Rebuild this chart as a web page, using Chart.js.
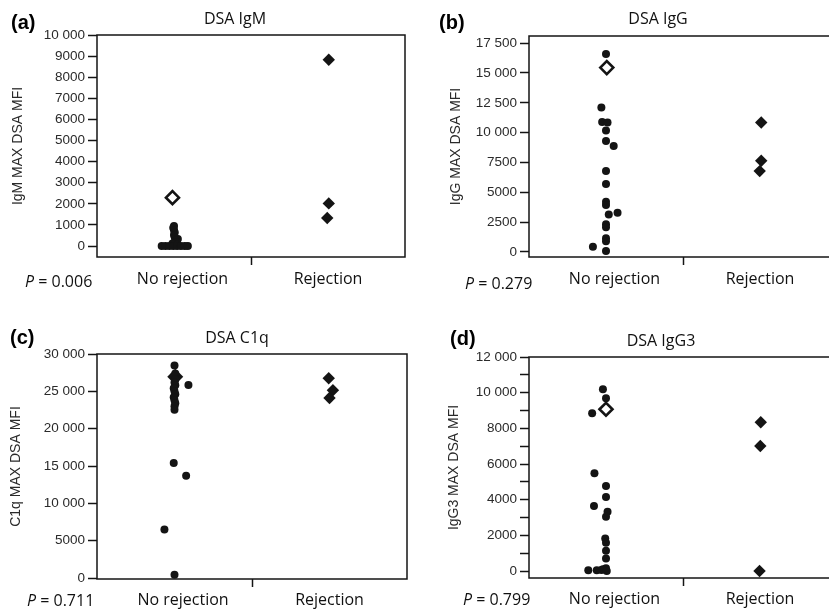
<!DOCTYPE html>
<html>
<head>
<title>DSA MFI by rejection</title>
<script src="https://cdn.jsdelivr.net/npm/chart.js"></script>
<style>
    html, body { margin: 0; padding: 0; background: #fff; overflow: hidden; }
    body { width: 829px; height: 612px; position: relative; }
    canvas { position: absolute; }
</style>
</head>
<body>
<canvas id="chartA" width="415" height="300" style="left:0;top:0"></canvas>
<canvas id="chartB" width="440" height="300" style="left:410px;top:0"></canvas>
<canvas id="chartC" width="415" height="312" style="left:0;top:300px"></canvas>
<canvas id="chartD" width="440" height="312" style="left:410px;top:300px"></canvas>
<script>
// categories on the x axis (0 = No rejection, 1 = Rejection)
const categories = ['No rejection', 'Rejection'];

// (a) DSA IgM
const igmNoRej = [950, 870, 760, 640, 520, 400, 330, 250, 180, 120, 60, 0, 0, 0, 0, 0, 0, 0, 0];
const igmNoRejJitter = [0, -0.005, 0, 0.005, 0, 0.005, 0.025, 0.01, 0.015, -0.01, 0.02, -0.08, -0.055, -0.03, -0.005, 0.02, 0.045, 0.07, 0.09];
const igmRej = [8830, 2020, 1330];
const igmRejJitter = [0.005, 0.005, -0.005];
const igmSpecial = 2290;
const igmTicks = [0, 1000, 2000, 3000, 4000, 5000, 6000, 7000, 8000, 9000, 10000];

// (b) DSA IgG
const iggNoRej = [16600, 12100, 10900, 10850, 10180, 9300, 8880, 6780, 5700, 4200, 3930, 3280, 3150, 2330, 2080, 1150, 900, 430, 80];
const iggNoRejJitter = [0, -0.03, -0.025, 0.01, 0, 0, 0.05, 0, 0, 0, 0, 0.075, 0.018, 0, 0, 0, 0, -0.085, 0];
const iggRej = [10850, 7650, 6780];
const iggRejJitter = [0.008, 0.008, -0.002];
const iggSpecial = 15450;
const iggTicks = [0, 2500, 5000, 7500, 10000, 12500, 15000, 17500];

// (c) DSA C1q
const c1qNoRej = [28450, 27400, 27000, 26600, 26200, 25800, 25400, 25000, 24600, 24200, 23800, 23400, 23000, 22550, 25850, 15400, 13700, 6500, 450];
const c1qNoRejJitter = [0, 0.005, -0.005, 0.005, 0, 0.005, -0.005, 0, 0.005, -0.005, 0, 0.005, 0, 0, 0.09, -0.005, 0.075, -0.065, 0];
const c1qRej = [26750, 25150, 24100];
const c1qRejJitter = [-0.005, 0.022, 0];
const c1qSpecial = 26950;
const c1qTicks = [0, 5000, 10000, 15000, 20000, 25000, 30000];

// (d) DSA IgG3
const igg3NoRej = [10190, 9690, 8850, 5480, 4770, 4150, 3640, 3330, 3050, 1830, 1580, 1140, 710, 150, 100, 60, 50, 40, 0];
const igg3NoRejJitter = [-0.02, 0, -0.09, -0.075, 0, 0, -0.078, 0.01, 0, -0.005, 0, 0, 0, 0, -0.02, -0.03, -0.06, -0.115, 0.005];
const igg3Rej = [8340, 7010, 0];
const igg3RejJitter = [0.005, 0.002, -0.003];
const igg3Special = 9070;
const igg3Ticks = [0, 1000, 2000, 3000, 4000, 5000, 6000, 7000, 8000, 9000, 10000, 11000, 12000];
const igg3Labels = [0, 2000, 4000, 6000, 8000, 10000, 12000];

const pValues = ['0.006', '0.279', '0.711', '0.799'];

const INK = '#141414';

function fmt(v) {
    if (v >= 10000) {
        const s = String(v);
        return s.slice(0, s.length - 3) + ' ' + s.slice(-3);
    }
    return String(v);
}

// frame box + panel letter, title and P value
const panelDecor = {
    id: 'panelDecor',
    beforeDatasetsDraw(chart, args, o) {
        const ctx = chart.ctx, a = chart.chartArea;
        ctx.save();
        ctx.strokeStyle = INK;
        ctx.lineWidth = 1.5;
        ctx.strokeRect(a.left, a.top, a.right - a.left, a.bottom - a.top);
        ctx.restore();
    },
    afterDraw(chart, args, o) {
        const ctx = chart.ctx;
        ctx.save();
        ctx.fillStyle = '#000';
        ctx.textBaseline = 'alphabetic';
        ctx.font = 'bold 20px "Liberation Sans", Arial, sans-serif';
        ctx.textAlign = 'left';
        ctx.fillText(o.letter, o.letterX, o.letterY);

        ctx.fillStyle = '#111';
        ctx.font = '16px "Open Sans", sans-serif';
        ctx.textAlign = 'center';
        ctx.fillText(o.title, o.titleX, o.titleY);

        ctx.textAlign = 'left';
        ctx.font = 'italic 16px "Open Sans", sans-serif';
        ctx.fillText('P', o.pX, o.pY);
        const w = ctx.measureText('P').width;
        ctx.font = '16px "Open Sans", sans-serif';
        ctx.fillText(' = ' + o.p, o.pX + w, o.pY);
        ctx.restore();
    }
};

function points(values, jitter, cat) {
    return values.map((v, i) => ({ x: cat + jitter[i], y: v }));
}

function makePanel(id, c) {
    const ctx = document.getElementById(id).getContext('2d');
    const xLabels = [categories[0], '', categories[1]];
    new Chart(ctx, {
        type: 'scatter',
        data: {
            datasets: [
                {
                    data: [{ x: c.specialJitter, y: c.special }],
                    pointStyle: 'rectRot',
                    pointRadius: c.specialFilled ? 8 : 6.5,
                    backgroundColor: c.specialFilled ? INK : '#fff',
                    borderColor: INK,
                    borderWidth: c.specialFilled ? 0 : 2.6,
                    order: c.specialFilled ? 3 : 0,
                    clip: false
                },
                {
                    data: points(c.rej, c.rejJitter, 1),
                    pointStyle: 'rectRot',
                    pointRadius: 6.2,
                    backgroundColor: INK,
                    borderWidth: 0,
                    order: 1,
                    clip: false
                },
                {
                    data: points(c.noRej, c.noRejJitter, 0),
                    pointStyle: 'circle',
                    pointRadius: 4,
                    backgroundColor: INK,
                    borderWidth: 0,
                    order: 2,
                    clip: false
                }
            ]
        },
        options: {
            responsive: false,
            animation: false,
            events: [],
            layout: { padding: { left: 0, right: c.padRight, top: c.padTop, bottom: 0 } },
            plugins: {
                legend: { display: false },
                tooltip: { enabled: false },
                panelDecor: c.decor
            },
            scales: {
                x: {
                    type: 'linear',
                    min: -0.5,
                    max: 1.5,
                    afterBuildTicks: s => { s.ticks = [{ value: 0.055 }, { value: 0.5 }, { value: 1 }]; },
                    afterFit: s => { s.height = c.xAxisHeight; },
                    ticks: {
                        callback: (v, i) => xLabels[i],
                        autoSkip: false,
                        maxRotation: 0,
                        padding: c.xPad,
                        color: '#111',
                        font: { family: 'Open Sans', size: 16 }
                    },
                    grid: {
                        drawOnChartArea: false,
                        tickLength: 8,
                        tickWidth: 1.5,
                        tickColor: g => g.index === 1 ? INK : 'rgba(0,0,0,0)'
                    },
                    border: { display: false }
                },
                y: {
                    min: c.yMin,
                    max: c.yMax,
                    afterBuildTicks: s => { s.ticks = c.yTicks.map(v => ({ value: v })); },
                    afterFit: s => { s.width = c.yAxisWidth; },
                    ticks: {
                        callback: v => (c.yLabels || c.yTicks).includes(v) ? fmt(v) : '',
                        autoSkip: false,
                        padding: 3,
                        color: '#2a2a2a',
                        font: { family: 'Liberation Sans', size: 13.5 }
                    },
                    grid: {
                        drawOnChartArea: false,
                        tickLength: 9,
                        tickWidth: 1.5,
                        tickColor: INK
                    },
                    border: { display: false },
                    title: {
                        display: true,
                        text: c.yTitle,
                        color: '#2a2a2a',
                        font: { family: 'Liberation Sans', size: 14 },
                        padding: { top: c.yTitlePad, bottom: 0 }
                    }
                }
            }
        },
        plugins: [panelDecor]
    });
}

makePanel('chartA', {
    noRej: igmNoRej, noRejJitter: igmNoRejJitter, rej: igmRej, rejJitter: igmRejJitter,
    special: igmSpecial, specialJitter: -0.01, specialFilled: false,
    yMin: -520, yMax: 10000, yTicks: igmTicks, yTitle: 'IgM MAX DSA MFI',
    yAxisWidth: 97, yTitlePad: 10, padRight: 10, padTop: 35, xAxisHeight: 43, xPad: 5,
    decor: { letter: '(a)', letterX: 11, letterY: 29, title: 'DSA IgM', titleX: 235, titleY: 24, p: pValues[0], pX: 25, pY: 287 }
});

makePanel('chartB', {
    noRej: iggNoRej, noRejJitter: iggNoRejJitter, rej: iggRej, rejJitter: iggRejJitter,
    special: iggSpecial, specialJitter: 0.005, specialFilled: false,
    yMin: -420, yMax: 18100, yTicks: iggTicks, yTitle: 'IgG MAX DSA MFI',
    yAxisWidth: 119, yTitlePad: 38, padRight: 13, padTop: 36, xAxisHeight: 43, xPad: 5,
    decor: { letter: '(b)', letterX: 29, letterY: 29, title: 'DSA IgG', titleX: 248, titleY: 24, p: pValues[1], pX: 55, pY: 289 }
});

makePanel('chartC', {
    noRej: c1qNoRej, noRejJitter: c1qNoRejJitter, rej: c1qRej, rejJitter: c1qRejJitter,
    special: c1qSpecial, specialJitter: 0.005, specialFilled: true,
    yMin: -130, yMax: 30000, yTicks: c1qTicks, yTitle: 'C1q MAX DSA MFI',
    yAxisWidth: 97, yTitlePad: 8, padRight: 8, padTop: 54, xAxisHeight: 33, xPad: 4,
    decor: { letter: '(c)', letterX: 10, letterY: 44, title: 'DSA C1q', titleX: 237, titleY: 43, p: pValues[2], pX: 27, pY: 306 }
});

makePanel('chartD', {
    noRej: igg3NoRej, noRejJitter: igg3NoRejJitter, rej: igg3Rej, rejJitter: igg3RejJitter,
    special: igg3Special, specialJitter: 0, specialFilled: false,
    yMin: -390, yMax: 12000, yTicks: igg3Ticks, yLabels: igg3Labels, yTitle: 'IgG3 MAX DSA MFI',
    yAxisWidth: 119, yTitlePad: 36, padRight: 13, padTop: 57, xAxisHeight: 34, xPad: 4,
    decor: { letter: '(d)', letterX: 40, letterY: 45, title: 'DSA IgG3', titleX: 251, titleY: 46, p: pValues[3], pX: 53, pY: 305 }
});
</script>
</body>
</html>
